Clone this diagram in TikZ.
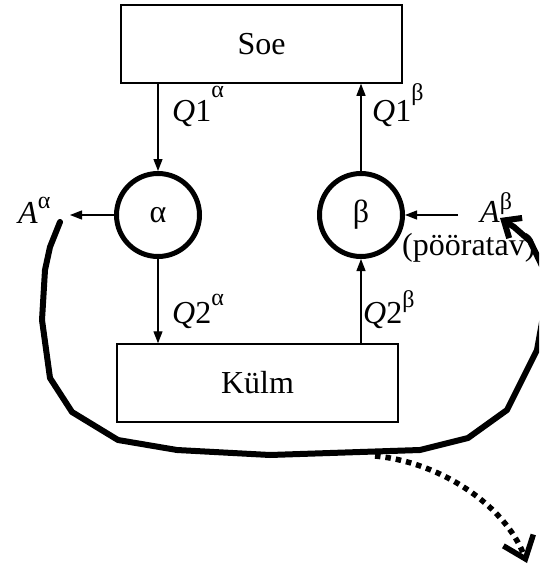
\documentclass[tikz,border=0pt]{standalone}
\usepackage{fontspec}
\setmainfont{Liberation Serif}
\usetikzlibrary{arrows.meta}
\newcommand{\Sp}[2]{\raisebox{#1pt}{\fontsize{24}{24}\selectfont #2}}
\begin{document}
\begin{tikzpicture}[x=1pt,y=-1pt,
  every node/.style={font=\fontsize{32}{38}\selectfont},
  box/.style={draw,line width=1.5pt,minimum width=281pt,minimum height=78pt,inner sep=0pt},
  eng/.style={circle,draw,line width=5pt,minimum size=83pt,inner sep=0pt},
  arr/.style={line width=1.3pt,-{Triangle[length=12pt,width=9pt]}},
  lbl/.style={inner sep=0pt,anchor=base west},
  heavy/.style={line width=6pt,line join=round,line cap=round},
  dots/.style={line width=5.5pt,dash pattern=on 5.5pt off 5pt}]
\clip (0,0) rectangle (539,570);
\node[box] (soe) at (261.5,44) {Soe};
\node[box] (kulm) at (257.5,383) {Külm};
\node[eng] (al) at (158,215) {α};
\node[eng] (be) at (361,215) {β};
% connectors
\draw[arr] (soe.south -| al.north) -- (al.north);
\draw[arr] (be.north) -- (be.north |- soe.south);
\draw[arr] (al.south) -- (al.south |- kulm.north);
\draw[arr] (be.south |- kulm.north) -- (be.south);
\coordinate (aa) at (70,215);
\coordinate (ab) at (458,215);
\draw[arr] (al.west) -- (aa);
\draw[arr] (ab) -- (be.east);
% labels
\node[lbl] (la) at (18,223) {\textit{A}\Sp{15}{α}};
\node[lbl] (q1a) at (172,121) {\textit{Q}1\Sp{24}{α}};
\node[lbl] (q1b) at (372,121) {\textit{Q}1\Sp{21}{β}};
\node[lbl] (q2a) at (172,323) {\textit{Q}2\Sp{18}{α}};
\node[lbl] (q2b) at (363,323) {\textit{Q}2\Sp{16}{β}};
\node[lbl] (lb) at (480,222) {\textit{A}\Sp{13}{β}};
\node[lbl] (pv) at (402,255) {(pööratav)};
% thick freeform curve
\coordinate (cs) at (60,222);
\coordinate (ce) at (500,218);
\draw[heavy,-{Straight Barb[length=14pt,width=24pt]}] (cs) -- (50,247) -- (45,270) -- (42,320) -- (50,378) -- (72,412) -- (118,440) -- (177,450) -- (270,455) -- (420,450) -- (468,438) -- (507,410) -- (537,350) -- (546,300) -- (543,268) -- (530,241) -- (514,227) -- (ce);
% dotted arrow
\coordinate (ds) at (375,456);
\coordinate (de) at (527,563);
\draw[dots,-{Straight Barb[length=20pt,width=32pt]}] (ds) .. controls (440,462) and (505,505) .. (de);
\end{tikzpicture}
\end{document}
